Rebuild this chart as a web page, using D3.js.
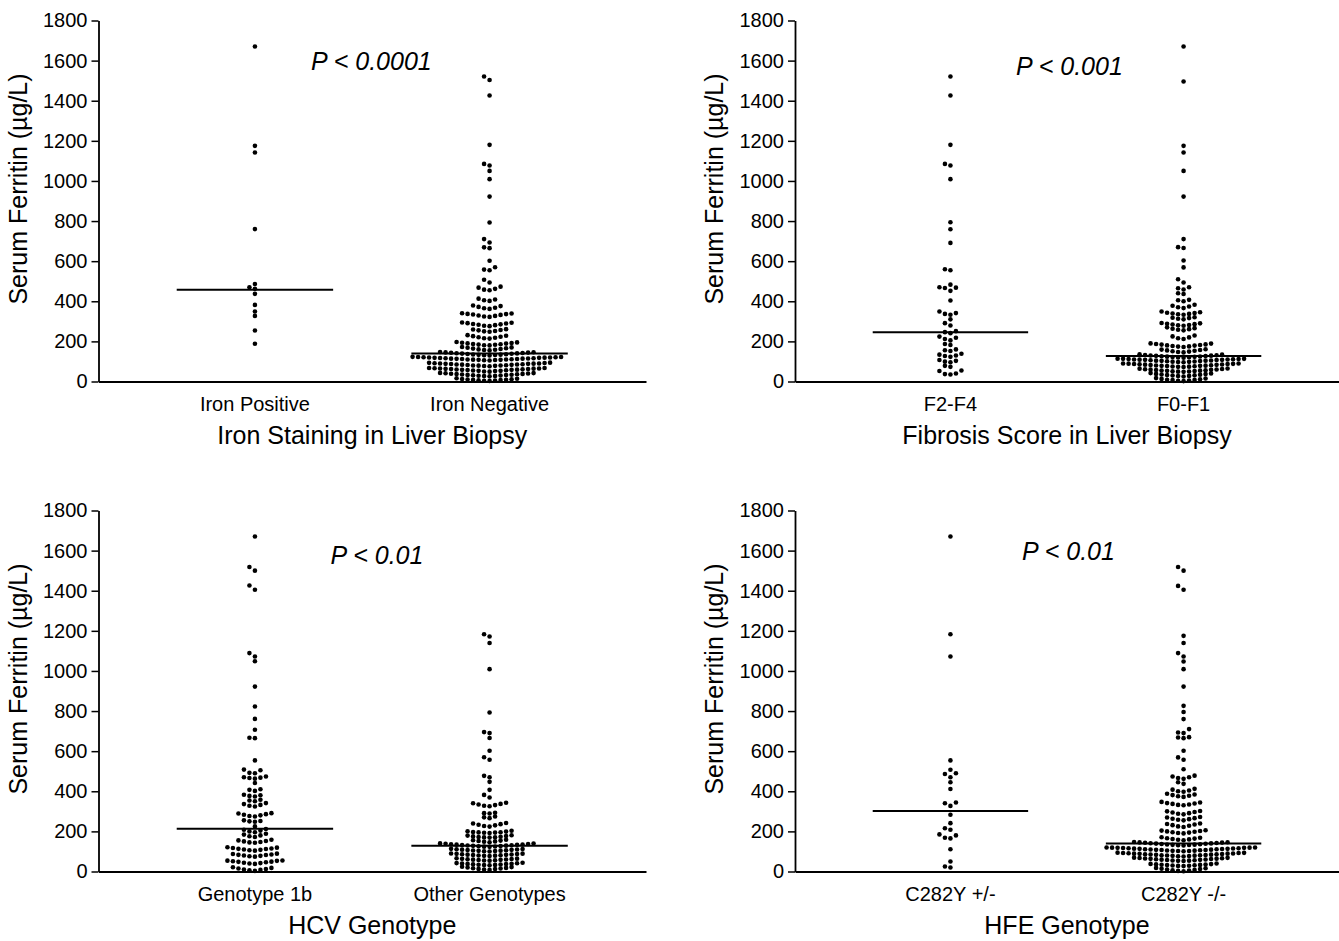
<!DOCTYPE html>
<html>
<head>
<meta charset="utf-8">
<script src="https://cdn.jsdelivr.net/npm/d3@7"></script>
<style>
  body { margin: 0; background: #ffffff; }
  text { font-family: "Liberation Sans", Arial, Helvetica, sans-serif; fill: #000; }
</style>
</head>
<body>
<svg id="chart" width="1339" height="941"></svg>
<script>
// ---------------- DATA ----------------
const yTickValues = [0, 200, 400, 600, 800, 1000, 1200, 1400, 1600, 1800];
const yAxisTitle = "Serum Ferritin (µg/L)";

// Panel 1: Iron staining
const ironCategories = ["Iron Positive", "Iron Negative"];
const ironPositive = [188, 254, 327, 349, 382, 437, 462, 470, 486, 760, 1142, 1175, 1670];
const ironNegative = [
  3, 4, 5, 6, 7, 8, 9, 10, 11, 12, 14, 16,
  26, 27, 28, 29, 30, 31, 32, 33, 34, 35, 36, 37, 38, 39, 40, 41, 42, 43,
  49, 50, 52, 53, 53, 55, 56, 57, 58, 58, 59, 60, 61, 62, 62, 63, 64, 65, 65, 66, 67, 67,
  76, 77, 78, 79, 80, 80, 81, 82, 83, 84, 85, 85, 86, 87, 88, 88, 89, 90, 90, 91, 92, 93, 94,
  105, 106, 107, 108, 108, 109, 110, 110, 111, 112, 112, 113, 114, 114, 115, 116, 116, 117, 118, 118, 119, 120, 120, 121, 121, 122, 122, 123,
  130, 131, 132, 133, 134, 135, 136, 137, 138, 139, 140, 141, 142, 143, 144, 145, 146, 147,
  155, 157, 158, 160, 162, 164, 166, 168, 170, 172,
  180, 181, 183, 184, 186, 187, 189, 190, 192, 193, 195, 197,
  214, 216, 218, 221, 223, 226, 228, 231,
  248, 250, 252, 255, 257, 259, 261,
  276, 278, 281, 283, 285, 287, 289, 291, 293, 294,
  322, 324, 327, 329, 332, 334, 336, 337, 339, 340,
  362, 365, 368, 372, 376, 379,
  402, 405, 409, 413,
  455, 458, 462, 468, 473,
  494, 507,
  555, 558, 570,
  602, 665, 669, 693, 710, 793, 922, 1009, 1050, 1077, 1085, 1180, 1426, 1503, 1521
];
const ironMedians = [457, 140];
const ironTitle = "Iron Staining in Liver Biopsy";
const ironP = "P < 0.0001";

// Panel 2: Fibrosis
const fibrosisCategories = ["F2-F4", "F0-F1"];
const fibrosisF2F4 = [
  35, 37, 40, 52, 55, 73, 78, 96, 99, 103, 107, 123, 127, 130, 134, 138,
  152, 156, 160, 182, 187, 205, 212, 218, 224, 241, 246, 251, 279, 291, 310,
  333, 337, 341, 349, 404, 452, 466, 468, 470, 483, 555, 560,
  691, 759, 794, 1009, 1077, 1085, 1180, 1426, 1521
];
const fibrosisF0F1 = [
  2, 4, 5, 7, 8, 9, 11, 13, 15, 17,
  25, 27, 28, 30, 31, 32, 34, 35, 37, 38, 40, 42,
  48, 49, 50, 51, 52, 53, 54, 55, 56, 57, 58, 59, 60, 61, 62, 64, 65,
  72, 73, 74, 75, 76, 77, 78, 78, 79, 80, 81, 82, 83, 84, 85, 86, 87, 87, 88, 89, 90, 90,
  96, 97, 98, 99, 100, 101, 102, 103, 104, 104, 105, 106, 107, 108, 108, 109, 110, 110, 111, 112, 112, 113, 113, 114,
  119, 120, 121, 122, 123, 124, 125, 126, 127, 128, 129, 130, 131, 132, 134, 136,
  145, 147, 149, 151, 153, 155, 157, 159, 161,
  172, 174, 175, 177, 179, 180, 182, 184, 185, 187, 189, 190,
  212, 216, 220, 225, 229,
  255, 258, 261, 263, 266, 270,
  278, 280, 282, 284, 286, 288, 290, 292,
  310, 313, 316, 318, 320,
  333, 335, 337, 339, 341, 343, 345, 349,
  366, 370, 374, 378, 383,
  400, 405, 407,
  436, 440,
  459, 465, 470,
  494, 510,
  569, 603, 666, 670, 710, 922, 1050, 1142, 1175, 1496, 1670
];
const fibrosisMedians = [245, 127];
const fibrosisTitle = "Fibrosis Score in Liver Biopsy";
const fibrosisP = "P < 0.001";

// Panel 3: HCV genotype
const hcvCategories = ["Genotype 1b", "Other Genotypes"];
const hcvGenotype1b = [
  3, 6, 8, 10, 12, 15, 18, 21,
  38, 40, 42, 44, 46, 48, 49, 51, 53, 54, 55,
  74, 76, 78, 80, 82, 83, 85, 87, 89,
  104, 106, 108, 110, 112, 113, 115, 117, 119, 121,
  143, 145, 147, 150, 152, 155, 158,
  172, 176, 180, 184, 188,
  196, 200, 204, 208, 212,
  225,
  248, 250, 252, 255,
  274, 277, 280, 283, 286, 289, 291,
  324, 328, 332, 336, 341,
  350, 354, 358,
  374, 377, 380, 383,
  402, 407, 410,
  441,
  463, 466, 468, 470, 474,
  490, 492, 505, 508,
  554, 665, 667, 707, 761, 823, 922, 1048, 1072, 1089, 1405, 1426, 1500, 1518, 1670
];
const hcvOther = [
  8, 10, 12, 13, 15, 16, 18, 20, 22, 24,
  31, 32, 33, 34, 35, 36, 37, 38, 39, 40, 41, 42, 44,
  54, 55, 56, 57, 58, 59, 60, 61, 62, 63, 64, 66,
  77, 78, 79, 80, 81, 82, 83, 84, 85, 86, 87, 88, 89, 90,
  100, 101, 102, 103, 104, 105, 106, 107, 108, 109, 110, 111, 112, 113,
  123, 124, 125, 126, 127, 128, 129, 130, 131, 132, 133, 134, 135, 136, 137, 138, 139, 140,
  146, 148, 150, 152, 154, 156, 158,
  169, 170, 171, 172, 173, 175, 177, 179, 181,
  192, 193, 194, 195, 196, 197, 199, 201, 203,
  224, 227, 230, 233, 236, 239, 242,
  266, 270, 274,
  289, 291, 293,
  325, 328, 331, 334, 337, 340, 343,
  369, 382, 407, 447, 470, 477, 557, 570, 602, 666, 690, 695, 793, 1009, 1139, 1172, 1183
];
const hcvMedians = [213, 128];
const hcvTitle = "HCV Genotype";
const hcvP = "P < 0.01";

// Panel 4: HFE genotype
const hfeCategories = ["C282Y +/-", "C282Y -/-"];
const hfeHetero = [20, 25, 50, 111, 165, 168, 180, 185, 208, 216, 241, 283, 327, 340, 344, 411, 445, 470, 486, 490, 507, 554, 1072, 1183, 1670];
const hfeWild = [
  1, 3, 5, 6, 8, 10, 12, 14, 16, 18,
  27, 28, 29, 30, 31, 32, 33, 34, 35, 36, 37, 38, 40,
  52, 53, 54, 55, 56, 57, 58, 59, 60, 61, 62, 63, 64, 65, 66, 67, 68, 69,
  75, 76, 77, 78, 79, 80, 81, 81, 82, 83, 84, 85, 86, 86, 87, 88, 89, 89, 90, 91, 92, 92, 93, 94,
  101, 102, 102, 103, 104, 105, 106, 107, 107, 108, 109, 110, 111, 111, 112, 113, 113, 114, 115, 116, 116, 117, 118, 118, 119, 119, 120, 120,
  130, 131, 132, 133, 134, 135, 136, 137, 138, 139, 140, 141, 142, 143, 144, 145, 146, 147,
  156, 158, 160, 162, 164, 166, 168, 171,
  190, 192, 194, 196, 198, 200, 202, 204, 206,
  222, 225, 228, 231, 234, 237, 239,
  255, 258, 261, 263, 266, 269, 272,
  285, 288, 291, 294, 297, 300, 302,
  330, 332, 334, 337, 339, 341, 344, 347,
  372, 375, 378, 381, 384, 388,
  398, 400, 404, 408, 412,
  437, 445,
  462, 466, 470, 474, 478,
  510, 557, 569, 602, 665, 668, 670, 690, 693, 710, 760, 795, 826, 922, 1009, 1047, 1072, 1089, 1139, 1175, 1405, 1424, 1500, 1518
];
const hfeMedians = [302, 140];
const hfeTitle = "HFE Genotype";
const hfeP = "P < 0.01";

// ---------------- LAYOUT ----------------
const panels = [
  { cats: ironCategories, groups: [ironPositive, ironNegative], medians: ironMedians, title: ironTitle, p: ironP,
    box: { left: 98.5, right: 646, top: 20.5, bottom: 381.5 }, pOff: [212.5, 49.5] },
  { cats: fibrosisCategories, groups: [fibrosisF2F4, fibrosisF0F1], medians: fibrosisMedians, title: fibrosisTitle, p: fibrosisP,
    box: { left: 795, right: 1339, top: 20.5, bottom: 381.5 }, pOff: [221, 54.5] },
  { cats: hcvCategories, groups: [hcvGenotype1b, hcvOther], medians: hcvMedians, title: hcvTitle, p: hcvP,
    box: { left: 98.5, right: 646, top: 510.5, bottom: 871.5 }, pOff: [232, 53] },
  { cats: hfeCategories, groups: [hfeHetero, hfeWild], medians: hfeMedians, title: hfeTitle, p: hfeP,
    box: { left: 795, right: 1339, top: 510.5, bottom: 871.5 }, pOff: [227, 49.5] }
];

const DOT_R = 2.3;      // dot radius
const COL_DX = 5.5;     // horizontal spacing in a row
const ROW_H = 4.3;      // vertical band (px) grouping points into one row

// Prism-like column scatter: group near-equal values into rows, spread sideways
function swarm(values, cx, y) {
  const pts = values.map(v => ({ v, y: y(v) })).sort((a, b) => a.v - b.v);
  const out = [];
  let row = [], rowY = null;
  const flush = () => {
    row.forEach((p, i) => {
      const k = i === 0 ? 0 : (i % 2 === 1 ? -Math.ceil(i / 2) : Math.ceil(i / 2));
      out.push({ v: p.v, y: p.y, x: cx + k * COL_DX });
    });
    row = [];
  };
  pts.forEach(p => {
    if (row.length && (rowY - p.y) < ROW_H) row.push(p);
    else { flush(); row = [p]; rowY = p.y; }
  });
  flush();
  return out;
}

const svg = d3.select("#chart");

panels.forEach(pn => {
  const b = pn.box;
  const g = svg.append("g");

  const y = d3.scaleLinear().domain([0, 1800]).range([b.bottom, b.top]);
  const x = d3.scalePoint().domain(pn.cats).range([b.left, b.right]).padding(2 / 3);
  const step = x.step();

  // Y axis
  const yAxis = d3.axisLeft(y).tickValues(yTickValues).tickSize(7).tickSizeOuter(0).tickPadding(4)
    .tickFormat(d3.format("d"));
  const ya = g.append("g").attr("transform", `translate(${b.left},0)`).call(yAxis);
  ya.selectAll("text").attr("font-size", 20).attr("font-family", null);
  ya.select(".domain").attr("stroke-width", 1.8);
  ya.selectAll(".tick line").attr("stroke-width", 1.5);

  // X axis (line only, labels manual)
  const xAxis = d3.axisBottom(x).tickSize(0).tickSizeOuter(0).tickFormat("");
  const xa = g.append("g").attr("transform", `translate(0,${b.bottom})`).call(xAxis);
  xa.select(".domain").attr("stroke-width", 1.8);

  // category labels
  g.selectAll("text.cat").data(pn.cats).join("text")
    .attr("class", "cat")
    .attr("x", d => x(d)).attr("y", b.bottom + 29.5)
    .attr("text-anchor", "middle").attr("font-size", 20)
    .text(d => d);

  // x axis title
  g.append("text")
    .attr("x", (b.left + b.right) / 2).attr("y", b.bottom + 62.5)
    .attr("text-anchor", "middle").attr("font-size", 25)
    .text(pn.title);

  // y axis title
  g.append("text")
    .attr("transform", `translate(${b.left - 72},${b.top + 168.5}) rotate(-90)`)
    .attr("text-anchor", "middle").attr("font-size", 25)
    .text(yAxisTitle);

  // P value
  g.append("text")
    .attr("x", b.left + pn.pOff[0]).attr("y", b.top + pn.pOff[1])
    .attr("font-size", 25).attr("font-style", "italic")
    .text(pn.p);

  // dots
  pn.groups.forEach((vals, gi) => {
    const cx = x(pn.cats[gi]);
    const pts = swarm(vals, cx, y);
    g.append("g").selectAll("circle").data(pts).join("circle")
      .attr("cx", d => d.x).attr("cy", d => d.y).attr("r", DOT_R).attr("fill", "#000");
  });

  // median lines
  g.selectAll("line.median").data(pn.medians).join("line")
    .attr("class", "median")
    .attr("x1", (d, i) => x(pn.cats[i]) - step / 3)
    .attr("x2", (d, i) => x(pn.cats[i]) + step / 3)
    .attr("y1", d => y(d)).attr("y2", d => y(d))
    .attr("stroke", "#000").attr("stroke-width", 2);
});
</script>
</body>
</html>
